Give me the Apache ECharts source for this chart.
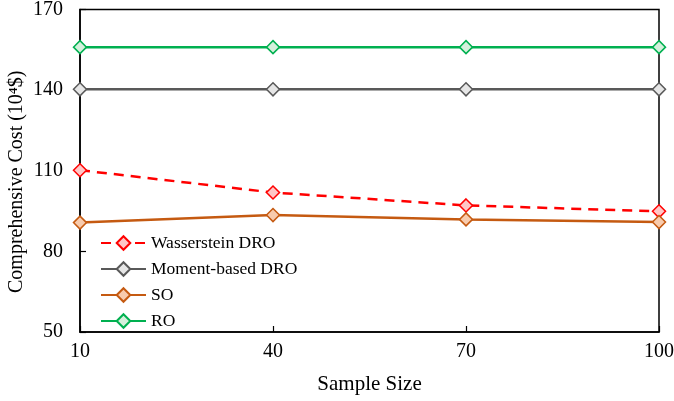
<!DOCTYPE html>
<html>
<head>
<meta charset="utf-8">
<script src="https://cdn.jsdelivr.net/npm/echarts@6/dist/echarts.min.js"></script>
<style>
  html, body { margin: 0; padding: 0; background: #fff; }
  #chart { width: 674px; height: 401px; }
</style>
</head>
<body>
<div id="chart"></div>
<script>
// Sample sizes on the horizontal axis
const sampleSizes = ['10', '40', '70', '100'];
// Comprehensive cost (10^4 $) for each method
const wassersteinDRO = [110.2, 101.9, 97.1, 94.9];
const momentDRO = [140.3, 140.3, 140.3, 140.3];
const soCost = [90.7, 93.5, 91.9, 90.9];
const roCost = [156.0, 156.0, 156.0, 156.0];
// Vertical tick values
const yTicks = [50, 80, 110, 140, 170];

const font = '"Liberation Serif", "Times New Roman", serif';

function lineSeries(name, data, color, fill, dashed) {
  return {
    name: name,
    type: 'line',
    data: data,
    symbol: 'diamond',
    symbolSize: 13,
    showSymbol: true,
    lineStyle: { color: color, width: 2.5, type: dashed ? [10, 7] : 'solid' },
    itemStyle: { color: fill, borderColor: color, borderWidth: 1.5 },
    emphasis: { disabled: true },
    z: 3
  };
}

const chart = echarts.init(document.getElementById('chart'), null, { renderer: 'canvas' });
chart.setOption({
  animation: false,
  backgroundColor: '#ffffff',
  grid: {
    left: 80, right: 15, top: 9.5, bottom: 69,
    outerBoundsMode: 'none',
    containLabel: false,
    show: true, borderColor: '#000', borderWidth: 1.5, backgroundColor: 'transparent'
  },
  legend: {
    orient: 'vertical',
    left: 95,
    top: 229,
    itemWidth: 45,
    itemHeight: 17,
    itemGap: 8,
    textStyle: { fontFamily: font, fontSize: 17.5, color: '#000' },
    data: ['Wasserstein DRO', 'Moment-based DRO', 'SO', 'RO']
  },
  xAxis: {
    type: 'category',
    data: sampleSizes,
    boundaryGap: false,
    name: 'Sample Size',
    nameLocation: 'middle',
    nameGap: 42,
    nameMoveOverlap: false,
    nameTextStyle: { fontFamily: font, fontSize: 21, color: '#000' },
    axisLine: { lineStyle: { color: '#000', width: 1.5 } },
    axisTick: { inside: true, length: 6, lineStyle: { color: '#000', width: 1.2 } },
    axisLabel: { fontFamily: font, fontSize: 20, color: '#000', margin: 10 },
    splitLine: { show: false }
  },
  yAxis: {
    type: 'value',
    min: 50,
    max: 170,
    interval: 30,
    name: 'Comprehensive Cost (10⁴$)',
    nameLocation: 'middle',
    nameGap: 53,
    nameMoveOverlap: false,
    nameTextStyle: { fontFamily: font, fontSize: 20, color: '#000', padding: [0, 0, 0, -22] },
    axisLine: { show: true, lineStyle: { color: '#000', width: 1.5 } },
    axisTick: { show: true, inside: true, length: 6, lineStyle: { color: '#000', width: 1.2 } },
    axisLabel: {
      fontFamily: font, fontSize: 20, color: '#000', margin: 17,
      formatter: function (v) { return yTicks.indexOf(v) >= 0 ? String(v) : ''; }
    },
    splitLine: { show: false }
  },
  series: [
    lineSeries('Wasserstein DRO', wassersteinDRO, '#ff0000', '#ffc7c7', true),
    lineSeries('Moment-based DRO', momentDRO, '#595959', '#e6e6e6', false),
    lineSeries('SO', soCost, '#c55a11', '#f8cbad', false),
    lineSeries('RO', roCost, '#00b050', '#d5f0dc', false)
  ]
});
</script>
</body>
</html>
